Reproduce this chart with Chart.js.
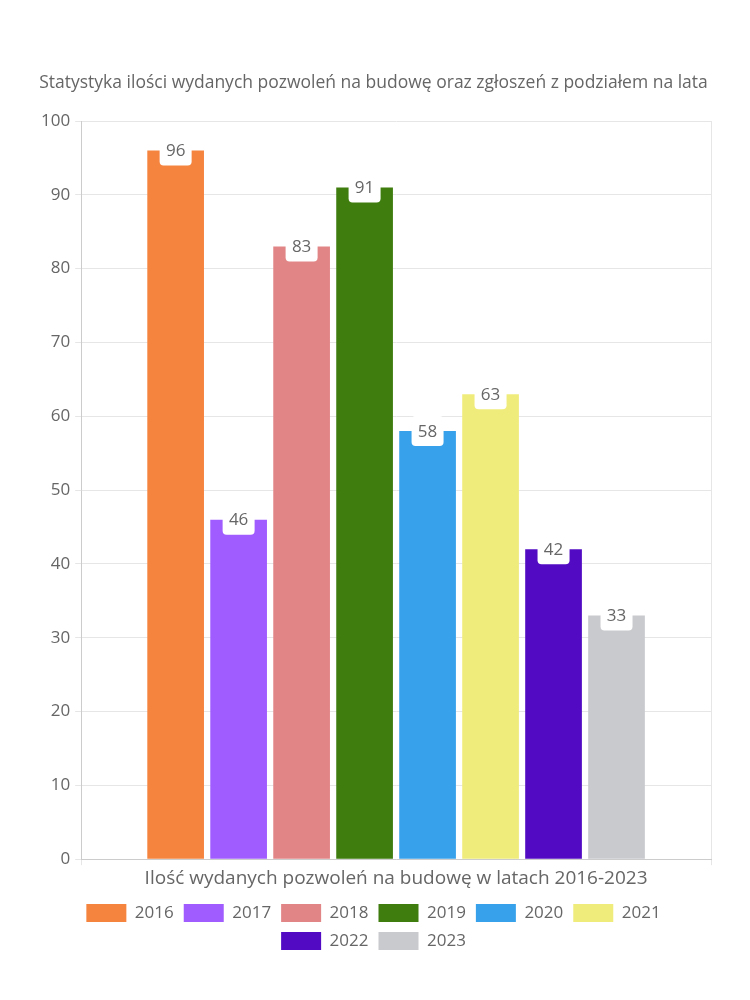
<!DOCTYPE html>
<html>
<head>
<meta charset="utf-8">
<script src="https://cdn.jsdelivr.net/npm/chart.js@4.4.0/dist/chart.umd.min.js"></script>
<style>
  html, body { margin: 0; padding: 0; background: #fff; }
  #wrap { width: 750px; height: 1000px; }
</style>
</head>
<body>
<div id="wrap"><canvas id="permitsChart" width="750" height="1000"></canvas></div>
<script>
// dane z wykresu
const years = ["2016", "2017", "2018", "2019", "2020", "2021", "2022", "2023"];
const permits = [96, 46, 83, 91, 58, 63, 42, 33];
const colors = ["#F5843F", "#A05CFE", "#E28586", "#3E7D0E", "#37A2EB", "#F0EC7C", "#520BC3", "#C9CACE"];
const yTicks = [0, 10, 20, 30, 40, 50, 60, 70, 80, 90, 100];

const FONT = "'Open Sans', 'Noto Sans', sans-serif";
const GREY = "#666";

// etykiety wartości w białym okienku na górze słupka
const valueBoxes = {
  id: "valueBoxes",
  afterDatasetsDraw(chart) {
    const ctx = chart.ctx;
    ctx.save();
    ctx.font = "17px " + FONT;
    ctx.textAlign = "center";
    ctx.textBaseline = "middle";
    chart.data.datasets.forEach((ds, i) => {
      const meta = chart.getDatasetMeta(i);
      meta.data.forEach((bar, j) => {
        const x = bar.x, y = bar.y;
        ctx.fillStyle = "#fff";
        ctx.beginPath();
        ctx.roundRect(x - 16, y - 15, 32, 30, 4);
        ctx.fill();
        ctx.fillStyle = GREY;
        ctx.fillText(String(ds.data[j]), x, y + 1);
      });
    });
    ctx.restore();
  }
};

const datasets = years.map((y, i) => ({
  label: y,
  data: [permits[i]],
  backgroundColor: colors[i],
  borderWidth: 0
}));

new Chart(document.getElementById("permitsChart"), {
  type: "bar",
  data: { labels: [""], datasets: datasets },
  plugins: [valueBoxes],
  options: {
    responsive: false,
    animation: false,
    layout: { padding: { top: 73, left: 36, right: 39, bottom: 40 } },
    plugins: {
      title: {
        display: true,
        text: "Statystyka ilości wydanych pozwoleń na budowę oraz zgłoszeń z podziałem na lata",
        color: GREY,
        font: { family: FONT, size: 17.5, weight: "normal" },
        padding: { top: 0, bottom: 27 }
      },
      legend: {
        position: "bottom",
        labels: {
          color: GREY,
          font: { family: FONT, size: 17 },
          boxWidth: 40,
          boxHeight: 18,
          padding: 10
        }
      },
      tooltip: { enabled: false }
    },
    scales: {
      x: {
        ticks: { display: false },
        grid: { color: "#e6e6e6", drawTicks: true, tickLength: 6 },
        border: { color: "#ccc" },
        title: {
          display: true,
          text: "Ilość wydanych pozwoleń na budowę w latach 2016-2023",
          color: GREY,
          font: { family: FONT, size: 19 },
          padding: { top: 2, bottom: 4 }
        }
      },
      y: {
        min: 0,
        max: 100,
        afterBuildTicks(axis) { axis.ticks = yTicks.map(v => ({ value: v })); },
        ticks: { color: GREY, font: { family: FONT, size: 17 }, padding: 5 },
        grid: { color: "#e6e6e6", tickLength: 6 },
        border: { color: "#ccc" }
      }
    }
  }
});
</script>
</body>
</html>
